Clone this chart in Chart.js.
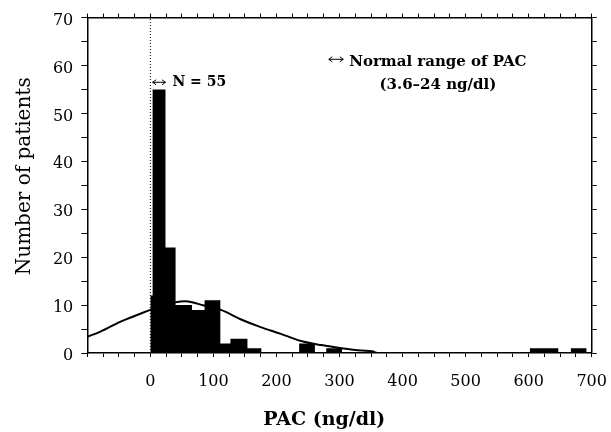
<!DOCTYPE html>
<html>
<head>
<meta charset="utf-8">
<script src="https://cdn.jsdelivr.net/npm/chart.js@4.4.0/dist/chart.umd.min.js"></script>
<style>
html, body { margin: 0; padding: 0; background: #fff; }
</style>
</head>
<body>
<canvas id="chart" width="611" height="432"></canvas>
<script>
// histogram bins (left edges) and counts, last edge closes the last bin
const binEdges = [0, 3.6, 24, 40, 66, 86, 111, 127, 154, 176, 236, 261, 279, 304, 602, 626, 647, 667, 692];
const binCounts = [12, 55, 22, 10, 9, 11, 2, 3, 1, 0, 2, 0, 1, 0, 1, 1, 0, 1];

// fitted distribution curve
const curveX = [-100, -80, -48, -16, 0, 40, 56, 85, 112, 144, 175, 207, 239, 271, 303, 335, 352, 360, 700];
const curveY = [3.4, 4.4, 6.5, 8.2, 9.0, 10.6, 10.8, 9.9, 9.0, 7.0, 5.4, 4.0, 2.5, 1.65, 1.0, 0.5, 0.35, 0, 0];

const xTickLabels = [0, 100, 200, 300, 400, 500, 600, 700];
const yTickLabels = [0, 10, 20, 30, 40, 50, 60, 70];

const histData = binEdges.map((e, i) => ({ x: e, y: i < binCounts.length ? binCounts[i] : 0 }));
const curveData = curveX.map((v, i) => ({ x: v, y: curveY[i] }));

const serif = '"DejaVu Serif", serif';

function arrow(ctx, x1, x2, y) {
  ctx.beginPath();
  ctx.moveTo(x1, y); ctx.lineTo(x2, y);
  ctx.moveTo(x1 + 3.5, y - 2.5); ctx.lineTo(x1, y); ctx.lineTo(x1 + 3.5, y + 2.5);
  ctx.moveTo(x2 - 3.5, y - 2.5); ctx.lineTo(x2, y); ctx.lineTo(x2 - 3.5, y + 2.5);
  ctx.stroke();
}

const notes = {
  id: 'notes',
  afterDraw(chart) {
    const { ctx, chartArea: a, scales: { x, y } } = chart;
    ctx.save();
    ctx.fillStyle = '#000';
    ctx.strokeStyle = '#000';
    ctx.lineWidth = 1;

    // N = 55 over the normal range
    arrow(ctx, x.getPixelForValue(3.6), x.getPixelForValue(24), y.getPixelForValue(56.5));
    ctx.font = 'bold 14px ' + serif;
    ctx.textBaseline = 'middle';
    ctx.textAlign = 'left';
    ctx.fillText('N = 55', x.getPixelForValue(35), y.getPixelForValue(56.5));

    // legend-like note
    arrow(ctx, x.getPixelForValue(283), x.getPixelForValue(306), y.getPixelForValue(61.3));
    ctx.textAlign = 'center';
    ctx.font = 'bold 15px ' + serif;
    ctx.fillText('Normal range of PAC', x.getPixelForValue(456), y.getPixelForValue(60.7));
    ctx.fillText('(3.6\u201324 ng/dl)', x.getPixelForValue(456), y.getPixelForValue(55.9));

    // axis titles
    ctx.font = 'bold 19px ' + serif;
    ctx.fillText('PAC (ng/dl)', a.left + 237, a.bottom + 67);
    ctx.font = '20px ' + serif;
    ctx.translate(a.left - 63, (a.top + a.bottom) / 2 - 9);
    ctx.rotate(-Math.PI / 2);
    ctx.fillText('Number of patients', 0, 0);
    ctx.restore();
  }
};

const tickFont = { family: serif, size: 16 };

new Chart(document.getElementById('chart'), {
  type: 'line',
  data: {
    datasets: [
      {
        data: histData,
        stepped: 'before',
        fill: 'origin',
        backgroundColor: '#000',
        borderWidth: 0,
        pointRadius: 0
      },
      {
        data: curveData,
        borderColor: '#000',
        borderWidth: 2,
        cubicInterpolationMode: 'monotone',
        fill: false,
        pointRadius: 0
      },
      {
        data: [{ x: 0, y: 0 }, { x: 0, y: 70 }],
        borderColor: '#000',
        borderWidth: 1,
        borderDash: [1, 2],
        fill: false,
        pointRadius: 0
      }
    ]
  },
  options: {
    responsive: false,
    animation: false,
    layout: { padding: 0 },
    plugins: { legend: { display: false }, tooltip: { enabled: false } },
    scales: {
      x: {
        type: 'linear', position: 'bottom', min: -100, max: 700,
        afterFit(s) { s.height = 79; s.paddingLeft = 0; s.paddingRight = 0; },
        border: { color: '#000', width: 1.5 },
        grid: { drawOnChartArea: false, color: '#000', tickLength: 4 },
        ticks: {
          stepSize: 25, autoSkip: false, maxRotation: 0, padding: 15, color: '#000', font: tickFont,
          callback: v => xTickLabels.includes(v) ? String(v) : ''
        }
      },
      x2: {
        type: 'linear', position: 'top', min: -100, max: 700,
        afterFit(s) { s.height = 15; s.paddingLeft = 0; s.paddingRight = 0; },
        border: { color: '#000', width: 1.5 },
        grid: { drawOnChartArea: false, color: '#000', tickLength: 4 },
        ticks: { stepSize: 25, autoSkip: false, maxRotation: 0, callback: () => '' }
      },
      y: {
        type: 'linear', position: 'left', min: 0, max: 70,
        afterFit(s) { s.width = 87.3; },
        border: { color: '#000', width: 1.5 },
        grid: { drawOnChartArea: false, color: '#000', tickLength: 6 },
        ticks: {
          stepSize: 5, autoSkip: false, padding: 8, labelOffset: 3, color: '#000', font: tickFont,
          callback: v => yTickLabels.includes(v) ? String(v) : ''
        }
      },
      y2: {
        type: 'linear', position: 'right', min: 0, max: 70,
        afterFit(s) { s.width = 19.3; },
        border: { color: '#000', width: 1.5 },
        grid: { drawOnChartArea: false, color: '#000', tickLength: 5 },
        ticks: { stepSize: 5, autoSkip: false, callback: () => '' }
      }
    }
  },
  plugins: [notes]
});
</script>
</body>
</html>
